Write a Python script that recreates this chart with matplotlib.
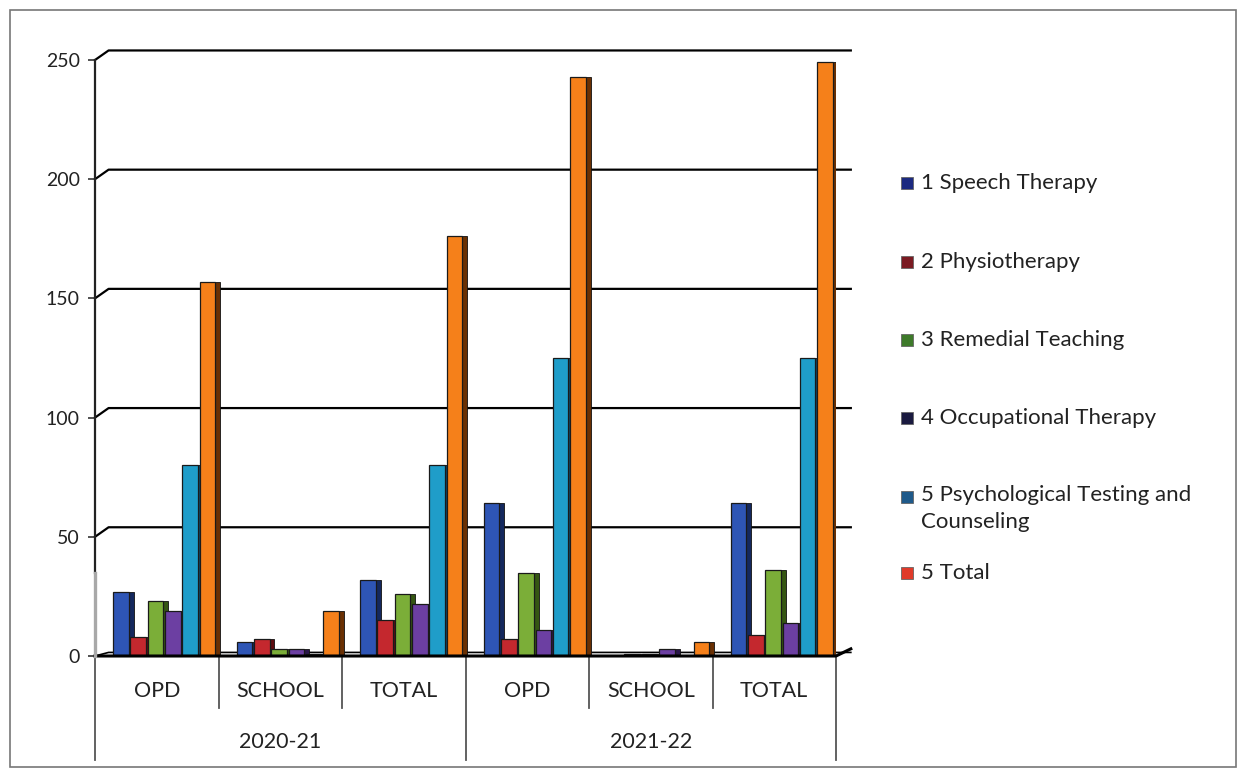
import numpy as np
import matplotlib.pyplot as plt
from matplotlib.patches import Rectangle

# categories (two-level axis)
categories = ["OPD", "SCHOOL", "TOTAL", "OPD", "SCHOOL", "TOTAL"]
years = ["2020-21", "2021-22"]

series_names = [
    "1 Speech Therapy",
    "2 Physiotherapy",
    "3 Remedial Teaching",
    "4 Occupational Therapy",
    "5 Psychological Testing and\nCounseling",
    "5 Total",
]

speech = [27, 6, 32, 64, 0, 64]
physio = [8, 7, 15, 7, 1, 9]
remedial = [23, 3, 26, 35, 1, 36]
occupational = [19, 3, 22, 11, 3, 14]
psych = [80, 1, 80, 125, 0, 125]
total = [157, 19, 176, 243, 6, 249]

values = [speech, physio, remedial, occupational, psych, total]
colors = ["#2E55B5", "#C4282E", "#7BAE38", "#6C3FA2", "#1F9DC9", "#F5801A"]
sides = ["#14285E", "#5E0C10", "#355612", "#2A164A", "#0B4A68", "#6A3003"]
legend_colors = ["#1C2A80", "#7A1A22", "#3E7A2A", "#1A1A40", "#1F5A8A", "#E03A2A"]

plt.rcParams["font.family"] = ["Lato", "DejaVu Sans"]

fig = plt.figure(figsize=(12.4, 7.69), dpi=100)
ax = fig.add_axes([95 / 1240, 1 - 656 / 769, (836 - 95) / 1240, (656 - 60) / 769])

x = np.arange(len(categories))
w = 0.14
shift = 0.06
for i, (vals, c, sc) in enumerate(zip(values, colors, sides)):
    pos = x + shift + (i - 2.5) * w
    # darker side face for a pseudo 3D look
    ax.bar(pos + 0.04, vals, width=w * 0.9, color=sc, edgecolor="#111111",
           linewidth=0.6, zorder=2 + i)
    ax.bar(pos, vals, width=w * 0.9, color=c, edgecolor="#1a1a1a", linewidth=0.9,
           zorder=2.5 + i)

ax.set_xlim(-0.5, 5.5)
ax.set_ylim(0, 250)
yt = [0, 50, 100, 150, 200, 250]
ax.set_yticks(yt)
ax.set_yticklabels([str(v) for v in yt], fontsize=14, color="#222222")
ax.tick_params(axis="y", length=5, width=1.2, color="#333333", pad=6)
ax.set_xticks([])

# back wall gridlines (lifted a bit, with a short diagonal from the axis)
lift = 4.0
x0, x1, xr = -0.5, -0.39, 5.62
for v in yt[1:]:
    ax.plot([x0, x1, xr], [v, v + lift, v + lift], color="black",
            linewidth=1.6, zorder=1, clip_on=False)
# floor
ax.plot([x0, x1, xr], [0, 1.5, 1.5], color="black", linewidth=1.2, zorder=1,
        clip_on=False)
ax.plot([x0, 5.5, xr], [0, 0, 3], color="black", linewidth=2.2, zorder=20,
        clip_on=False)

for s in ax.spines.values():
    s.set_visible(False)
ax.plot([x0, x0], [35, 250], color="#222222", linewidth=1.6, clip_on=False, zorder=21)
ax.plot([x0, x0], [0, 35], color="#A8A8A8", linewidth=2.4, clip_on=False, zorder=21)

# two-level category axis
trans = ax.get_xaxis_transform()
for b in np.arange(-0.5, 6, 1):
    big = b in (-0.5, 2.5, 5.5)
    ax.plot([b, b], [0, -0.175 if big else -0.087], color="#555555",
            linewidth=1.3, transform=trans, clip_on=False)
for xi, lab in zip(x, categories):
    ax.text(xi, -0.058, lab, transform=trans, ha="center", va="center",
            fontsize=15.5, color="#222222")
for k, yr in enumerate(years):
    ax.text(1 + 3 * k, -0.145, yr, transform=trans, ha="center", va="center",
            fontsize=15.5, color="#222222")

# legend, placed entry by entry like the original
legend_y = [183, 262, 340, 418, 497, 573]
for name, lc, ly in zip(series_names, legend_colors, legend_y):
    fig.patches.append(Rectangle((901 / 1240, 1 - (ly + 6) / 769), 12 / 1240, 12 / 769,
                                 transform=fig.transFigure, facecolor=lc,
                                 edgecolor="#666666", linewidth=0.6))
    if "\n" in name:
        fig.text(921 / 1240, 1 - (ly - 12) / 769, name, ha="left", va="top",
                 fontsize=16, color="#222222", linespacing=1.45)
    else:
        fig.text(921 / 1240, 1 - ly / 769, name, ha="left", va="center",
                 fontsize=16, color="#222222")

# outer frame
fig.patches.append(Rectangle((10 / 1240, 2 / 769), 1226 / 1240, 757 / 769,
                             transform=fig.transFigure, fill=False,
                             edgecolor="#777777", linewidth=1.2))

fig.savefig("out.png", dpi=100)
